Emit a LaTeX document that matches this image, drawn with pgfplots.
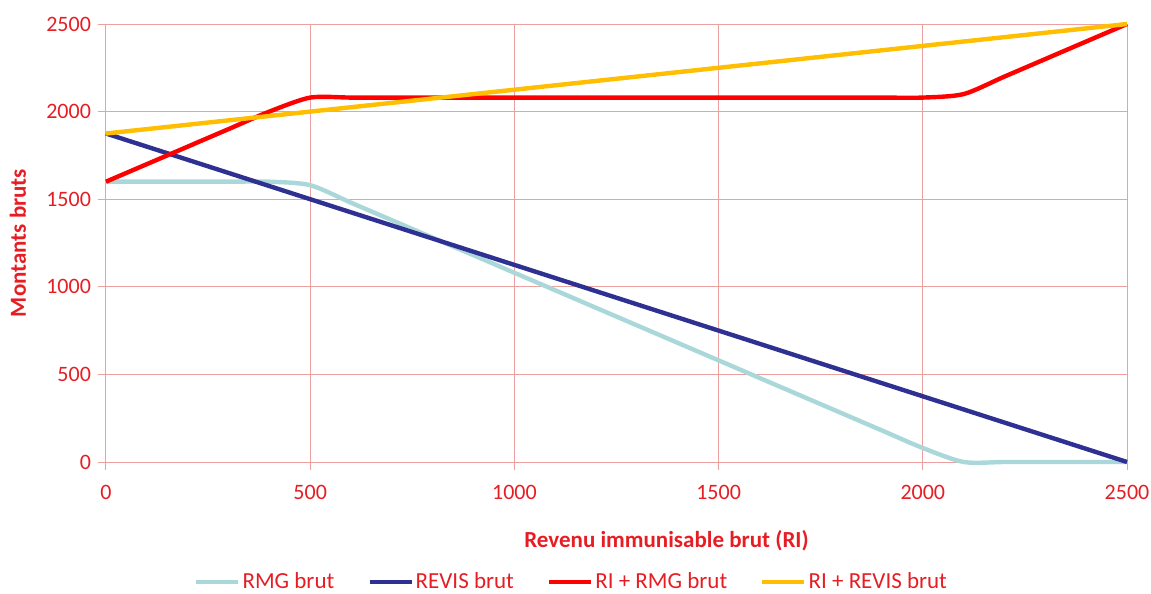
\documentclass[border=0pt]{standalone}
\usepackage{pgfplots}
\pgfplotsset{compat=1.18}
\usepackage{pgfplotstable}
\usepackage{fontspec}
\setmainfont{Carlito}
\usetikzlibrary{calc}

\definecolor{gridpink}{RGB}{236,160,160}
\definecolor{txtred}{RGB}{230,30,36}
\definecolor{rmgblue}{RGB}{170,216,218}
\definecolor{revisblue}{RGB}{46,49,146}
\definecolor{rirmgred}{RGB}{255,0,0}
\definecolor{rirevisgold}{RGB}{255,190,0}

% x, RMG, REVIS, RI+RMG, RI+REVIS
\pgfplotstableread{
x    rmg   revis  rirmg  rirevis
0    1600  1875   1600   1875
100  1600  1800   1700   1900
200  1600  1725   1800   1925
300  1600  1650   1900   1950
400  1600  1575   2000   1975
500  1580  1500   2080   2000
600  1480  1425   2080   2025
700  1380  1350   2080   2050
800  1280  1275   2080   2075
900  1180  1200   2080   2100
1000 1080  1125   2080   2125
1100 980   1050   2080   2150
1200 880   975    2080   2175
1300 780   900    2080   2200
1400 680   825    2080   2225
1500 580   750    2080   2250
1600 480   675    2080   2275
1700 380   600    2080   2300
1800 280   525    2080   2325
1900 180   450    2080   2350
2000 80    375    2080   2375
2100 0     300    2100   2400
2200 0     225    2200   2425
2300 0     150    2300   2450
2400 0     75     2400   2475
2500 0     0      2500   2500
}\data

\begin{document}
\begin{tikzpicture}
\begin{axis}[
    name=ax,
    scale only axis,
    width=510.5pt, height=219pt,
    xmin=0, xmax=2500, ymin=0, ymax=2500,
    xtick={0,500,...,2500}, ytick={0,500,...,2500},
    grid=major,
    grid style={gridpink, line width=0.5pt},
    axis line style={gridpink, line width=0.5pt},
    tick style={gridpink, line width=0.5pt},
    axis x line*=bottom, axis y line*=left,
    tick align=outside, major tick length=4pt,
    ticklabel style={font=\fontsize{11}{13}\selectfont, text=txtred},
    /pgf/number format/assume math mode=true,
    /pgf/number format/1000 sep={},
    scaled ticks=false,
    xticklabel style={yshift=-4pt},
    xlabel={Revenu immunisable brut (RI)},
    ylabel={Montants bruts},
    label style={font=\fontsize{11.5}{13}\selectfont\bfseries, text=txtred},
    xlabel style={at={(axis description cs:0.549,-0.18)}, anchor=center},
    ylabel style={at={(axis description cs:-0.0862,0.5)}, anchor=center, rotate=0},
    clip=false,
    legend columns=4,
    legend style={at={(0.456,-0.274)}, anchor=center, draw=none, fill=none,
        font=\fontsize{11.5}{13}\selectfont, text=txtred,
        nodes={inner sep=1pt},
        /tikz/every even column/.append style={column sep=15.5pt}},
    legend image code/.code={\draw[#1] (0pt,0pt) -- (21pt,0pt);},
    every axis plot/.append style={line width=2.2pt, smooth, tension=0.45, no marks},
]
\addplot[rmgblue] table[x=x, y=rmg] {\data};
\addlegendentry{RMG brut}
\addplot[revisblue] table[x=x, y=revis] {\data};
\addlegendentry{REVIS brut}
\addplot[rirmgred] table[x=x, y=rirmg] {\data};
\addlegendentry{RI + RMG brut}
\addplot[rirevisgold] table[x=x, y=rirevis] {\data};
\addlegendentry{RI + REVIS brut}
\end{axis}
\pgfresetboundingbox
\path ($(ax.south west)+(-53pt,-66pt)$) rectangle ($(ax.north east)+(12pt,12pt)$);
\end{tikzpicture}
\end{document}
